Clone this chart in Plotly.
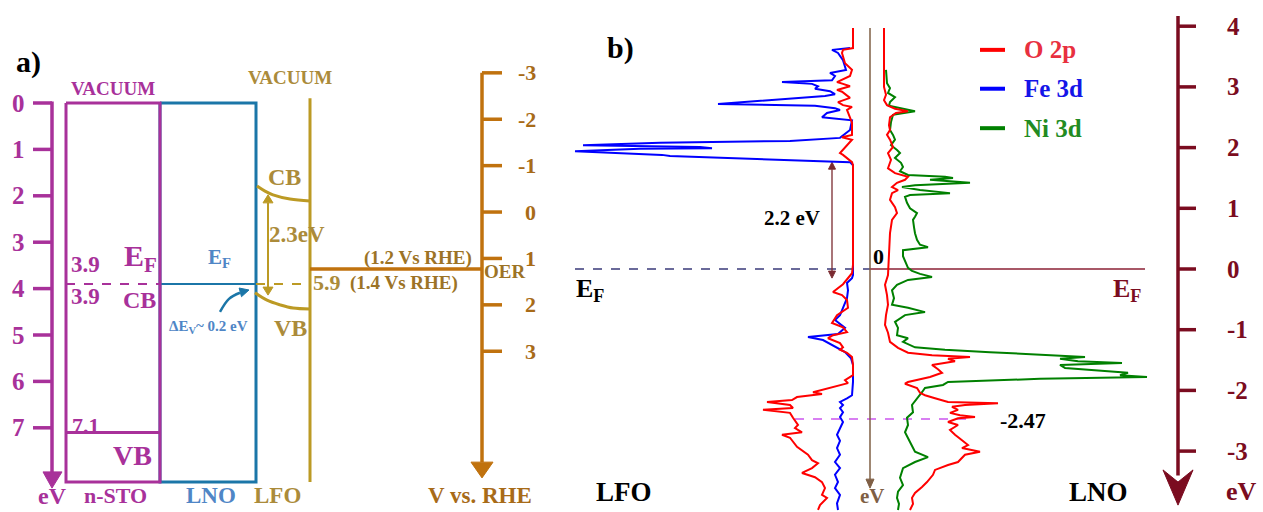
import plotly.graph_objects as go

W, H = 1263, 512

# ---------------- panel a: band alignment (eV below vacuum) ----------------
EV_TICKS = [0, 1, 2, 3, 4, 5, 6, 7]
RHE_TICKS = [-3, -2, -1, 0, 1, 2, 3]
STO_EF = 3.9
STO_VB = 7.1
LNO_EF = 3.9
LFO_CB = [1.79, 1.90, 1.98, 2.07, 2.11]
LFO_VB = [4.09, 4.25, 4.35, 4.42, 4.44]
LFO_GAP = (1.98, 4.14)
OER_V = 1.23
SLAB_DEPTH = 8.17
RHE_ZERO = 2.35          # 0 V vs RHE on the vacuum energy scale

# ---------------- panel b: projected DOS (arb. units) ----------------
B_TICKS = [4, 3, 2, 1, 0, -1, -2, -3]
GAP_LFO = (1.76, -0.15)
O2P_MARK = -2.47

LFO_FE3D_E = [3.64, 3.61, 3.56, 3.44, 3.28, 3.23, 3.18, 3.11, 3.08, 3.05,
              3.01, 2.97, 2.93, 2.88, 2.85, 2.72, 2.69, 2.65, 2.62, 2.57,
              2.50, 2.47, 2.45, 2.29, 2.16, 2.11, 2.08, 2.04, 2.01, 1.99,
              1.98, 1.94, 1.88, 1.86, 1.76, 1.71,
              -0.10, -0.15, -0.23, -0.35, -0.48, -0.64, -0.76, -0.84, -0.97, -1.07,
              -1.12, -1.17, -1.29, -1.37, -1.47, -1.58, -1.86, -2.08, -2.13, -2.19,
              -2.24, -2.29, -2.36, -2.44, -2.52, -2.62, -2.73, -2.83, -2.95, -3.06,
              -3.18, -3.28, -3.39, -3.51, -3.61, -3.72, -3.86, -3.97]
LFO_FE3D_D = [0.3, 2.1, 1.5, 1.0, 0.7, 2.3, 1.8, 2.1, 7.1, 4.1,
              3.5, 3.8, 2.3, 1.8, 2.8, 13.5, 3.8, 1.8, 1.3, 2.6,
              3.1, 0.8, 0.1, 0.3, 1.3, 6.3, 19.3, 27.0, 15.3, 14.1,
              21.3, 27.8, 19.1, 18.3, 0.3, 0.0,
              0.0, 0.1, 0.6, 0.5, 0.6, 1.0, 1.3, 1.8, 0.8, 1.5,
              4.5, 3.0, 1.6, 0.8, 0.2, 0.0, 0.0, 0.1, 0.6, 1.3,
              1.0, 1.3, 1.0, 1.3, 1.0, 1.3, 1.6, 1.3, 1.6, 1.3,
              1.8, 1.3, 1.8, 1.5, 1.8, 1.3, 1.6, 1.5]

LFO_O2P_E = [3.97, 3.64, 3.61, 3.56, 3.39, 3.28, 3.18, 3.08, 3.05, 3.01,
             2.95, 2.92, 2.82, 2.75, 2.70, 2.67, 2.62, 2.50, 2.41, 2.21,
             2.17, 2.13, 2.04, 1.96, 1.91, 1.88, 1.83, 1.76, 1.71, 0.07,
             -0.07, -0.18, -0.25, -0.38, -0.43, -0.51, -0.64, -0.76, -0.89, -0.96,
             -1.04, -1.09, -1.14, -1.22, -1.29, -1.33, -1.38, -1.45, -1.58, -1.75,
             -1.83, -1.88, -1.96, -2.03, -2.06, -2.11, -2.16, -2.19, -2.24, -2.29,
             -2.32, -2.37, -2.45, -2.57, -2.62, -2.69, -2.73, -2.78, -2.93, -3.06,
             -3.15, -3.20, -3.28, -3.36, -3.43, -3.51, -3.61, -3.72, -3.77, -3.89,
             -3.97]
LFO_O2P_D = [0.0, 0.0, 1.0, 1.1, 0.8, 0.1, 0.3, 1.6, 1.0, 0.3,
             1.6, 1.1, 0.3, 1.5, 1.0, 0.1, 0.6, 0.3, 0.1, 0.1,
             1.1, 0.1, 0.6, 1.1, 1.3, 1.0, 0.6, 0.1, 0.0, 0.0,
             0.1, 0.6, 1.0, 2.0, 1.1, 0.6, 0.5, 1.6, 2.1, 1.0,
             0.6, 2.0, 2.5, 1.3, 1.0, 1.3, 0.6, 0.1, 0.0, 0.0,
             0.8, 0.5, 2.3, 4.0, 3.1, 5.6, 6.1, 8.6, 6.3, 6.0,
             9.0, 6.3, 6.0, 5.5, 5.8, 5.1, 7.1, 6.3, 5.6, 4.5,
             4.1, 3.5, 4.1, 5.1, 3.8, 3.1, 2.8, 3.1, 2.6, 3.3,
             3.5]

LNO_NI3D_E = [3.28, 3.06, 2.98, 2.90, 2.83, 2.75, 2.69, 2.60, 2.54, 2.42,
              2.29, 2.21, 2.13, 2.04, 1.96, 1.91, 1.83, 1.75, 1.68, 1.61,
              1.55, 1.52, 1.50, 1.47, 1.42, 1.38, 1.35, 1.30, 1.25, 1.22,
              1.19, 1.09, 1.00, 0.92, 0.86, 0.81, 0.69, 0.59, 0.48, 0.40,
              0.36, 0.31, 0.21, 0.12, 0.02,
              -0.03, -0.08, -0.13, -0.18, -0.26, -0.35, -0.48, -0.59, -0.64, -0.71,
              -0.76, -0.87, -0.97, -1.09, -1.14, -1.20, -1.29, -1.33, -1.37, -1.42,
              -1.45, -1.48, -1.52, -1.55, -1.58, -1.63, -1.68, -1.71, -1.75, -1.78,
              -1.81, -1.86, -1.91, -1.96, -2.03, -2.13, -2.24, -2.36, -2.45, -2.57,
              -2.69, -2.85, -3.01, -3.10, -3.18, -3.28, -3.44, -3.56, -3.67, -3.77,
              -3.87, -3.97]
LNO_NI3D_D = [0.2, 0.3, 0.6, 0.4, 1.1, 0.6, 0.5, 3.1, 0.9, 0.7,
              0.6, 0.9, 1.1, 0.7, 1.3, 1.6, 1.1, 1.7, 1.9, 1.6,
              2.4, 6.1, 6.9, 4.6, 8.6, 3.1, 1.8, 3.6, 6.6, 2.6,
              2.1, 2.3, 2.6, 3.3, 3.1, 2.9, 3.0, 3.1, 3.3, 3.6,
              4.4, 1.9, 1.9, 2.1, 2.4,
              2.8, 3.6, 4.8, 2.4, 1.3, 0.8, 1.0, 0.8, 2.4, 4.1,
              2.1, 1.1, 1.4, 1.3, 2.4, 1.9, 3.1, 6.1, 10.6, 17.4,
              20.1, 17.6, 19.4, 23.8, 17.6, 18.1, 21.6, 24.4, 23.6, 26.3,
              15.6, 6.4, 5.9, 4.1, 3.8, 3.3, 2.8, 2.9, 2.3, 2.4,
              2.1, 2.6, 3.1, 4.4, 3.1, 1.9, 1.6, 1.9, 1.4, 1.3,
              1.5, 1.4]

LNO_O2P_E = [3.97, 3.00, 2.87, 2.78, 2.70, 2.64, 2.60, 2.57, 2.50, 2.37,
             2.29, 2.21, 2.13, 2.01, 1.91, 1.80, 1.66, 1.58, 1.52, 1.47,
             1.42, 1.35, 1.30, 1.25, 1.14, 1.02, 0.92, 0.81, 0.59, 0.26,
             0.02,
             -0.10, -0.26, -0.43, -0.59, -0.76, -0.92, -1.05, -1.20, -1.30, -1.38,
             -1.42, -1.45, -1.48, -1.52, -1.58, -1.65, -1.71, -1.78, -1.86, -1.89,
             -1.96, -2.04, -2.08, -2.13, -2.19, -2.21, -2.24, -2.27, -2.32, -2.37,
             -2.41, -2.44, -2.46, -2.52, -2.57, -2.65, -2.73, -2.82, -2.90, -2.95,
             -3.01, -3.06, -3.18, -3.23, -3.31, -3.39, -3.51, -3.59, -3.69, -3.77,
             -3.87, -3.97]
LNO_O2P_D = [0.0, 0.0, 0.2, 0.0, 0.3, 1.1, 2.4, 1.2, 0.6, 0.5,
             0.6, 0.3, 0.6, 0.9, 0.4, 0.7, 0.4, 1.1, 2.4, 2.1,
             1.3, 0.8, 1.4, 0.8, 0.6, 1.1, 1.3, 0.8, 0.6, 0.5,
             0.5,
             0.4, 0.1, 0.3, 0.4, 0.2, 0.1, 0.4, 0.6, 1.4, 2.4,
             4.8, 8.6, 6.4, 7.1, 4.8, 5.4, 5.8, 4.6, 2.4, 2.1,
             3.3, 3.6, 4.1, 5.1, 6.4, 11.4, 8.1, 6.8, 7.4, 6.6,
             7.6, 9.1, 7.4, 6.4, 7.4, 6.6, 7.1, 7.8, 8.4, 7.8,
             9.6, 8.1, 7.4, 6.4, 5.1, 4.9, 4.3, 3.8, 3.1, 2.8,
             2.9, 2.6]

LEGEND_NAMES = ["O 2p", "Fe 3d", "Ni 3d"]
LEGEND_E = [3.61, 2.97, 2.32]

# ---------------- styling ----------------
FONT = "Liberation Serif, Times New Roman, serif"
MAG = "#A8319A"
LNO_C = "#1B76A8"
LNO_T = "#4F86C6"
GOLD = "#BC9A24"
GOLD_T = "#AB8B3A"
RHE_C = "#C0720E"
RHE_T = "#A86B18"
OER_T = "#9C7326"
DRED = "#7B0C20"
BROWN = "#7F5F45"
GAP_C = "#7A2A30"
RED = "#FF0000"
BLUE = "#0000FF"
GREEN = "#008000"

# horizontal layout of the schematic (pixel positions on the x axis)
AX_A = 52
STO_X = (66, 160)
LNO_X = (160, 256)
LFO_X = 310
CB_X = [257, 265, 273, 290, 310]
VB_X = [255, 267, 280, 293, 310]
GAP_ARROW_X = 268
RHE_X = 482
B_CENTER_X = 870
B_AXIS_X = 1178
EF_LEFT, EF_RIGHT = 575, 1145
MARK_X = (795, 972)
GAP_B_X = 832
LEG_X = (980, 1005)

A_PX, A_ZERO = 46.4, 103      # panel a: pixels per eV, pixel row of vacuum level
B_PX, B_ZERO = 60.7, 269      # panel b: pixels per eV, pixel row of E_F

fig = go.Figure()


def line(xs, ys, color, width, xa="x", ya="y", dash=None, shape="linear", fill=None):
    fig.add_trace(go.Scatter(
        x=xs, y=ys, mode="lines", xaxis=xa, yaxis=ya, hoverinfo="skip",
        showlegend=False, fill=fill, fillcolor=color if fill else None,
        line=dict(color=color, width=width, dash=dash, shape=shape)))


def head(x, y, dx, dy, color, length, half, ya, scale):
    """Filled arrowhead with its tip at (x, y), pointing along (dx, dy) in screen pixels."""
    n = (dx * dx + dy * dy) ** 0.5
    ux, uy = dx / n, dy / n
    bx, by = -ux * length, -uy * length
    px, py = -uy * half, ux * half
    xs = [x, x + bx + px, x + bx - px, x]
    # screen y grows downward; data y grows with sign given by scale
    ys = [y, y + (by + py) / scale, y + (by - py) / scale, y]
    line(xs, ys, color, 1, ya=ya, fill="toself")


annotations = []


def text(x, y, s, size, color, ya="y", xanchor="center", xa="x"):
    annotations.append(dict(
        x=x, y=y, xref=xa, yref=ya, text="<b>" + s + "</b>", showarrow=False,
        xanchor=xanchor, yanchor="middle",
        font=dict(family=FONT, size=size, color=color)))


# ===== panel a =====  (y axis reversed: +1 eV = +A_PX pixels downward)
line([AX_A, AX_A], [-0.03, 7.95], MAG, 3.5)
tx, ty = [], []
for t in EV_TICKS:
    tx += [33, AX_A, None]
    ty += [t, t, None]
line(tx, ty, MAG, 3.5)
line([43, 62, 52, 43], [7.95, 7.95, 8.30, 7.95], MAG, 1, fill="toself")
for t in EV_TICKS:
    text(18, t, str(t), 25, MAG)

# LNO slab, then n-STO slab on top of the shared edge
line([LNO_X[0], LNO_X[1], LNO_X[1], LNO_X[0], LNO_X[0]],
     [0, 0, SLAB_DEPTH, SLAB_DEPTH, 0], LNO_C, 3)
line([LNO_X[0], LNO_X[1]], [LNO_EF, LNO_EF], LNO_C, 2)
line([STO_X[0], STO_X[1], STO_X[1], STO_X[0], STO_X[0]],
     [0, 0, SLAB_DEPTH, SLAB_DEPTH, 0], MAG, 3)
line([STO_X[0], STO_X[1]], [STO_VB, STO_VB], MAG, 3)
line([STO_X[0], STO_X[1]], [STO_EF, STO_EF], MAG, 2, dash="dash")

# LFO with bent bands
line([LFO_X, LFO_X], [-0.1, SLAB_DEPTH], GOLD, 3)
line(CB_X, LFO_CB, GOLD, 3, shape="spline")
line(VB_X, LFO_VB, GOLD, 3, shape="spline")
line([LNO_X[1], LFO_X], [LNO_EF, LNO_EF], GOLD, 2, dash="dash")
# band gap double arrow
gap_head = 8 / A_PX
line([GAP_ARROW_X, GAP_ARROW_X], [LFO_GAP[0] + gap_head, LFO_GAP[1] - gap_head], GOLD, 2)
head(GAP_ARROW_X, LFO_GAP[0], 0, -1, GOLD, 8, 5, "y", A_PX)
head(GAP_ARROW_X, LFO_GAP[1], 0, 1, GOLD, 8, 5, "y", A_PX)

# valence band offset pointer
line([220, 229, 240], [4.50, 4.22, 4.09], LNO_C, 2.5, shape="spline")
head(249, 4.03, 11, -3, LNO_C, 9, 4.5, "y", A_PX)

# RHE potential axis and OER level
line([LFO_X, RHE_X], [OER_V, OER_V], RHE_C, 3.5, ya="y2")
line([RHE_X, RHE_X], [RHE_TICKS[0], 5.39], RHE_C, 3.5, ya="y2")
tx, ty = [], []
for t in RHE_TICKS:
    tx += [RHE_X, 502, None]
    ty += [t, t, None]
line(tx, ty, RHE_C, 3.5, ya="y2")
line([471, 493, 482, 471], [5.39, 5.39, 5.73, 5.39], RHE_C, 1, ya="y2", fill="toself")
for t in RHE_TICKS:
    text(538, t, str(t), 22, RHE_T, ya="y2", xanchor="right")

text(28, -0.88, "a)", 30, "black")
text(113, -0.32, "VACUUM", 19, MAG)
text(290, -0.56, "VACUUM", 19, GOLD_T)
text(85, STO_EF - 0.41, "3.9", 23, MAG)
text(140, STO_EF - 0.56, "E<sub>F</sub>", 30, MAG)
text(85, STO_EF + 0.28, "3.9", 23, MAG)
text(139, STO_EF + 0.35, "CB", 24, MAG)
text(86, STO_VB - 0.16, "7.1", 22, MAG)
text(132, STO_VB + 0.49, "VB", 28, MAG)
text(219, LNO_EF - 0.56, "E<sub>F</sub>", 21, LNO_T)
text(208, 4.83, "ΔE<sub>V</sub>~ 0.2 eV", 15, LNO_T)
text(284, 1.59, "CB", 24, GOLD_T)
text(297, 2.84, "2.3eV", 23, GOLD_T)
text(290, 4.85, "VB", 24, GOLD_T)
text(418, 3.34, "(1.2 Vs RHE)", 19, OER_T)
text(327, 3.87, "5.9", 22, GOLD_T)
text(404, 3.87, "(1.4 Vs RHE)", 19, OER_T)
text(504, 3.64, "OER", 19, OER_T)
text(52, 8.46, "eV", 24, MAG)
text(115, 8.46, "n-STO", 22, MAG)
text(211, 8.46, "LNO", 23, LNO_T)
text(277, 8.46, "LFO", 23, GOLD_T)
text(480, 8.46, "V vs. RHE", 23, RHE_T)

# ===== panel b =====  (+1 eV = B_PX pixels upward)
# Fermi level
line([EF_LEFT, B_CENTER_X], [0, 0], "#3A3A7A", 1.5, ya="y3", dash="dash")
line([B_CENTER_X, EF_RIGHT], [0, 0], "#8B2035", 1.5, ya="y3")

# DOS curves: LFO mirrored to the left, LNO to the right
line(LFO_FE3D_D, LFO_FE3D_E, BLUE, 2, xa="x2", ya="y3")
line(LFO_O2P_D, LFO_O2P_E, RED, 2, xa="x2", ya="y3")
line(LNO_NI3D_D, LNO_NI3D_E, GREEN, 2, xa="x3", ya="y3")
line(LNO_O2P_D, LNO_O2P_E, RED, 2, xa="x3", ya="y3")

# O 2p band-centre marker
line([MARK_X[0], MARK_X[1]], [O2P_MARK, O2P_MARK], "#CC55EE", 1.5, ya="y3", dash="dash")

# central energy arrow
line([B_CENTER_X, B_CENTER_X], [3.97, -3.47], BROWN, 1.5, ya="y3")
head(B_CENTER_X, -3.61, 0, 1, BROWN, 9, 4, "y3", -B_PX)

# LFO gap arrow
gh = 7 / B_PX
line([GAP_B_X, GAP_B_X], [GAP_LFO[0] - gh, GAP_LFO[1] + gh], GAP_C, 1.3, ya="y3")
head(GAP_B_X, GAP_LFO[0], 0, -1, GAP_C, 7, 3.5, "y3", -B_PX)
head(GAP_B_X, GAP_LFO[1], 0, 1, GAP_C, 7, 3.5, "y3", -B_PX)

# right energy axis
line([B_AXIS_X, B_AXIS_X], [4.17, -3.40], DRED, 3.5, ya="y3")
tx, ty = [], []
for t in B_TICKS:
    tx += [B_AXIS_X, 1196, None]
    ty += [t, t, None]
line(tx, ty, DRED, 3.5, ya="y3")
line([1163, 1178, 1193, 1178, 1163], [-3.31, -3.51, -3.31, -3.89, -3.31], DRED, 1,
     ya="y3", fill="toself")
for t in B_TICKS:
    text(1225, t, str(t), 25, DRED, ya="y3", xanchor="left")

# legend
for name, e, c, tc in zip(LEGEND_NAMES, LEGEND_E, [RED, BLUE, GREEN],
                          ["#E8303F", "#1515E8", "#228B22"]):
    line([LEG_X[0], LEG_X[1]], [e, e], c, 4, ya="y3")
    text(1022, e, name, 25, tc, ya="y3", xanchor="left")

text(620, 3.64, "b)", 30, "black", ya="y3")
text(792, 0.84, "2.2 eV", 21, "black", ya="y3")
text(878, 0.20, "0", 22, "black", ya="y3")
text(590, -0.35, "E<sub>F</sub>", 26, "black", ya="y3")
text(1127, -0.35, "E<sub>F</sub>", 26, DRED, ya="y3")
text(1023, -2.49, "-2.47", 22, "black", ya="y3")
text(624, -3.67, "LFO", 27, "black", ya="y3")
text(1098, -3.67, "LNO", 27, "black", ya="y3")
text(872, -3.74, "eV", 21, BROWN, ya="y3")
text(1241, -3.67, "eV", 26, DRED, ya="y3")

a_range = [(H - A_ZERO) / A_PX, -A_ZERO / A_PX]
b_range = [(B_ZERO - H) / B_PX, B_ZERO / B_PX]
hidden = dict(visible=False, showgrid=False, zeroline=False, fixedrange=True)

fig.update_layout(
    width=W, height=H, margin=dict(l=0, r=0, t=0, b=0),
    paper_bgcolor="white", plot_bgcolor="white", showlegend=False,
    xaxis=dict(range=[0, W], domain=[0, 1], **hidden),
    xaxis2=dict(range=[85.3, -41.0], overlaying="x", **hidden),
    xaxis3=dict(range=[-88.4, 37.9], overlaying="x", **hidden),
    yaxis=dict(range=a_range, domain=[0, 1], **hidden),
    yaxis2=dict(range=[a_range[0] - RHE_ZERO, a_range[1] - RHE_ZERO], overlaying="y", **hidden),
    yaxis3=dict(range=b_range, overlaying="y", **hidden),
    annotations=annotations,
)

fig.write_html("out.html")
